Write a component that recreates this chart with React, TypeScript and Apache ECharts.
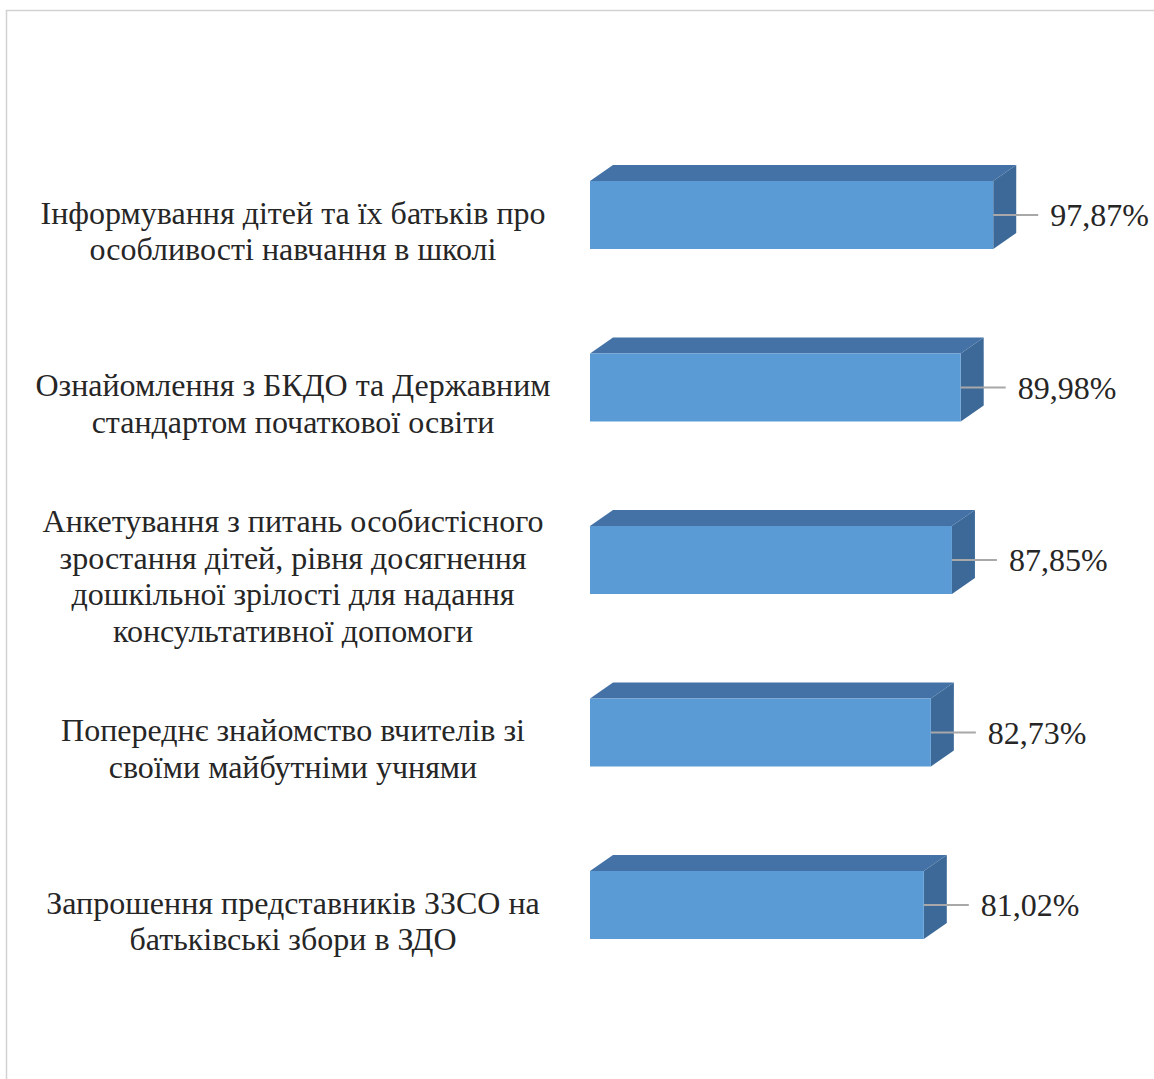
import React, { useEffect, useRef } from "react";
import * as echarts from "echarts";

const categories: string[] = [
  "Інформування дітей та їх батьків про\nособливості навчання в школі",
  "Ознайомлення з БКДО та Державним\nстандартом початкової освіти",
  "Анкетування з питань особистісного\nзростання дітей, рівня досягнення\nдошкільної зрілості для надання\nконсультативної допомоги",
  "Попереднє знайомство вчителів зі\nсвоїми майбутніми учнями",
  "Запрошення представників ЗЗСО на\nбатьківські збори в ЗДО",
];
const values: number[] = [97.87, 89.98, 87.85, 82.73, 81.02];

const FRONT = "#5b9bd5";
const TOP = "#4472a6";
const SIDE = "#3c6998";
const FONT = "'Liberation Serif', 'Times New Roman', serif";
const TEXT = "#262626";

export default function App() {
  const ref = useRef<HTMLDivElement>(null);
  useEffect(() => {
    if (!ref.current) return;
    const chart = echarts.init(ref.current, null, { renderer: "svg" });
    const data = values.map((v, i) => [i, v]);
    chart.setOption({
      animation: false,
      backgroundColor: "#ffffff",
      graphic: [
        {
          type: "rect",
          left: 4,
          top: 8,
          shape: { width: 1200, height: 1200 },
          style: { fill: "none", stroke: "#d2d2d2", lineWidth: 1.5 },
          silent: true,
        },
      ],
      grid: { left: 590, width: 412, top: 128.75, height: 862.5 },
      xAxis: {
        type: "value",
        min: 0,
        max: 100,
        show: false,
      },
      yAxis: {
        type: "category",
        data: categories,
        inverse: true,
        axisLine: { show: false },
        axisTick: { show: false },
        splitLine: { show: false },
        axisLabel: { show: false },
      },
      series: [
        {
          type: "custom",
          data,
          encode: { x: 1, y: 0 },
          renderItem: (params: any, api: any) => {
            const idx = api.value(0);
            const v = api.value(1);
            const s = api.coord([0, idx]);
            const e = api.coord([v, idx]);
            const h = 68;
            const dx = 23;
            const dy = 16;
            const x0 = s[0];
            const x1 = e[0];
            const yc = e[1];
            const top = yc - h / 2;
            const bot = yc + h / 2;
            return {
              type: "group",
              children: [
                {
                  type: "polygon",
                  shape: { points: [[x0, top], [x0 + dx, top - dy], [x1 + dx, top - dy], [x1, top]] },
                  style: { fill: TOP },
                },
                {
                  type: "polygon",
                  shape: { points: [[x1, top], [x1 + dx, top - dy], [x1 + dx, bot - dy], [x1, bot]] },
                  style: { fill: SIDE },
                },
                {
                  type: "rect",
                  shape: { x: x0, y: top, width: x1 - x0, height: h },
                  style: { fill: FRONT },
                },
                {
                  type: "line",
                  shape: { x1: x1, y1: yc, x2: x1 + 45, y2: yc },
                  style: { stroke: "#a8a8a8", lineWidth: 2 },
                },
                {
                  type: "text",
                  style: {
                    text: v.toFixed(2).replace(".", ",") + "%",
                    x: x1 + 57,
                    y: yc,
                    align: "left",
                    verticalAlign: "middle",
                    fontFamily: FONT,
                    fontSize: 32,
                    fill: TEXT,
                  },
                },
                {
                  type: "text",
                  style: {
                    text: categories[idx],
                    x: x0 - 297,
                    y: yc + 16,
                    align: "center",
                    verticalAlign: "middle",
                    fontFamily: FONT,
                    fontSize: 32,
                    lineHeight: 36.5,
                    fill: TEXT,
                  },
                },
              ],
            };
          },
        },
      ],
    });
    return () => chart.dispose();
  }, []);
  return (
    <div
      ref={ref}
      style={{ position: "absolute", left: 0, top: 0, width: 1154, height: 1079 }}
    />
  );
}
